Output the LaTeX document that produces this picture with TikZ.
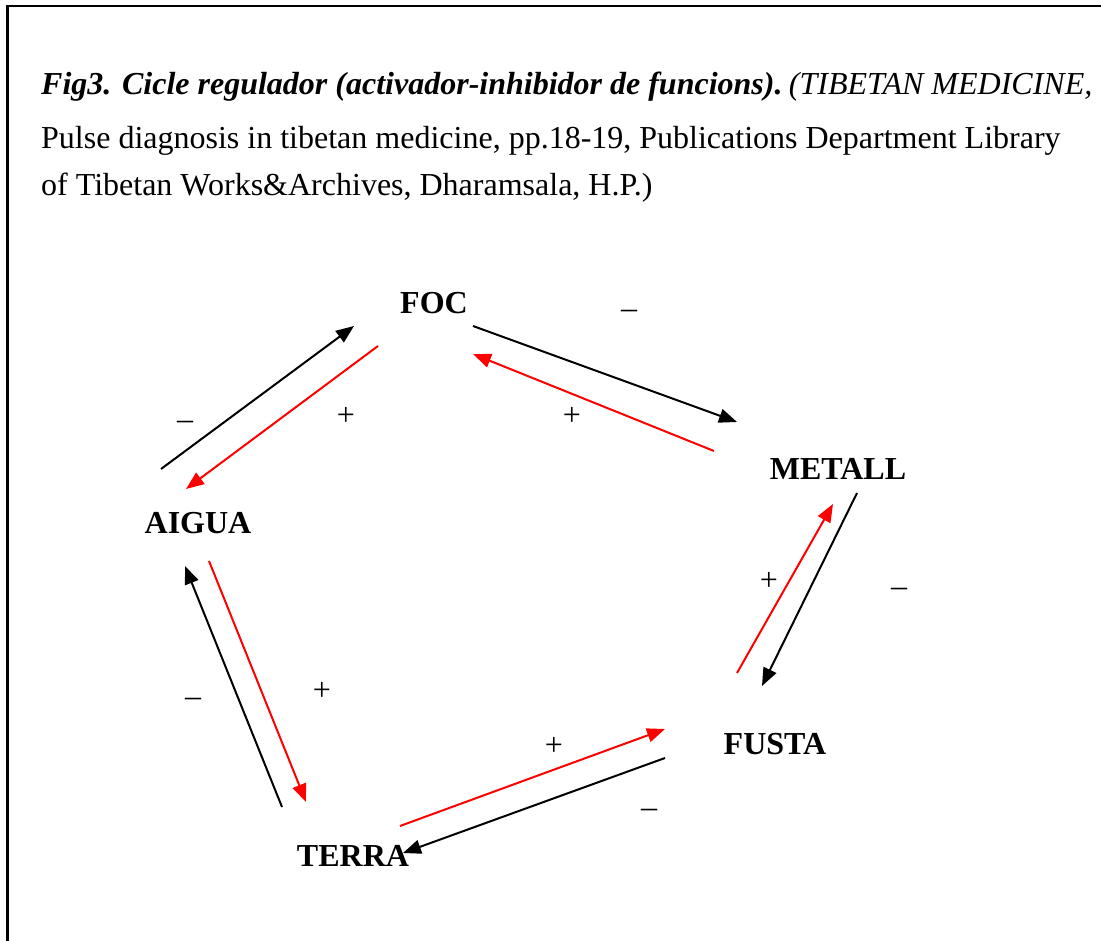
\documentclass[tikz,border=0pt]{standalone}
\usepackage{fontspec}
\setmainfont{Liberation Serif}
\usetikzlibrary{arrows.meta}
\begin{document}
\begin{tikzpicture}[x=1pt,y=-1pt,
  txt/.style={font=\fontsize{32}{38}\selectfont, inner sep=0pt, anchor=base west},
  lbl/.style={font=\fontsize{32}{38}\selectfont\bfseries, inner sep=0pt},
  sgn/.style={font=\fontsize{32}{38}\selectfont, inner sep=0pt},
  inhib/.style={draw=black, line width=2pt, -{Triangle[length=18pt,width=14pt]}},
  activ/.style={draw=red, fill=red, line width=2pt, -{Triangle[length=18pt,width=14pt]}}]
\useasboundingbox (0,0) rectangle (1101,941);
\fill[white] (0,0) rectangle (1101,941);

% frame (left and top edges)
\draw[line width=2.5pt] (7.5,941) -- (7.5,6) -- (1101,6);

% caption
\node[txt] (cap1) at (41,95) {\textbf{\textit{Fig3. Cicle regulador (activador-inhibidor de funcions).}}\hspace{0.2em}\textit{(TIBETAN MEDICINE,}};
\node[txt] (cap2) at (41,149) {Pulse diagnosis in tibetan medicine, pp.18-19, Publications Department Library};
\node[txt] (cap3) at (41,196) {of Tibetan Works\&Archives, Dharamsala, H.P.)};

% elements
\node[lbl] (foc) at (434,303) {FOC};
\node[lbl] (metall) at (838,469) {METALL};
\node[lbl] (aigua) at (198,523) {AIGUA};
\node[lbl] (fusta) at (775,744) {FUSTA};
\node[lbl] (terra) at (353,856) {TERRA};

% arrow end points
\coordinate (af1) at (161,469);  \coordinate (af2) at (354,326);
\coordinate (fa1) at (378,346);  \coordinate (fa2) at (186,489);
\coordinate (fm1) at (473,326);  \coordinate (fm2) at (737,422);
\coordinate (mf1) at (714,451);  \coordinate (mf2) at (473,354);
\coordinate (mu1) at (857,493);  \coordinate (mu2) at (762,686);
\coordinate (um1) at (737,673);  \coordinate (um2) at (833,504);
\coordinate (tu1) at (400,826);  \coordinate (tu2) at (665,729);
\coordinate (ut1) at (665,758);  \coordinate (ut2) at (403,853);
\coordinate (ta1) at (282,807);  \coordinate (ta2) at (185,566);
\coordinate (at1) at (209,561);  \coordinate (at2) at (306,802);

% inhibiting (black) and activating (red) connectors
\draw[inhib] (af1) -- (af2);
\draw[activ] (fa1) -- (fa2);
\draw[inhib] (fm1) -- (fm2);
\draw[activ] (mf1) -- (mf2);
\draw[inhib] (mu1) -- (mu2);
\draw[activ] (um1) -- (um2);
\draw[activ] (tu1) -- (tu2);
\draw[inhib] (ut1) -- (ut2);
\draw[inhib] (ta1) -- (ta2);
\draw[activ] (at1) -- (at2);

% signs
\node[sgn] (s1) at (185,425) {–};
\node[sgn] (s2) at (346,416) {+};
\node[sgn] (s3) at (629,314) {–};
\node[sgn] (s4) at (572,416) {+};
\node[sgn] (s5) at (769,581) {+};
\node[sgn] (s6) at (899,592) {–};
\node[sgn] (s7) at (193,702) {–};
\node[sgn] (s8) at (322,691) {+};
\node[sgn] (s9) at (554,746) {+};
\node[sgn] (s10) at (649,813) {–};
\end{tikzpicture}
\end{document}
